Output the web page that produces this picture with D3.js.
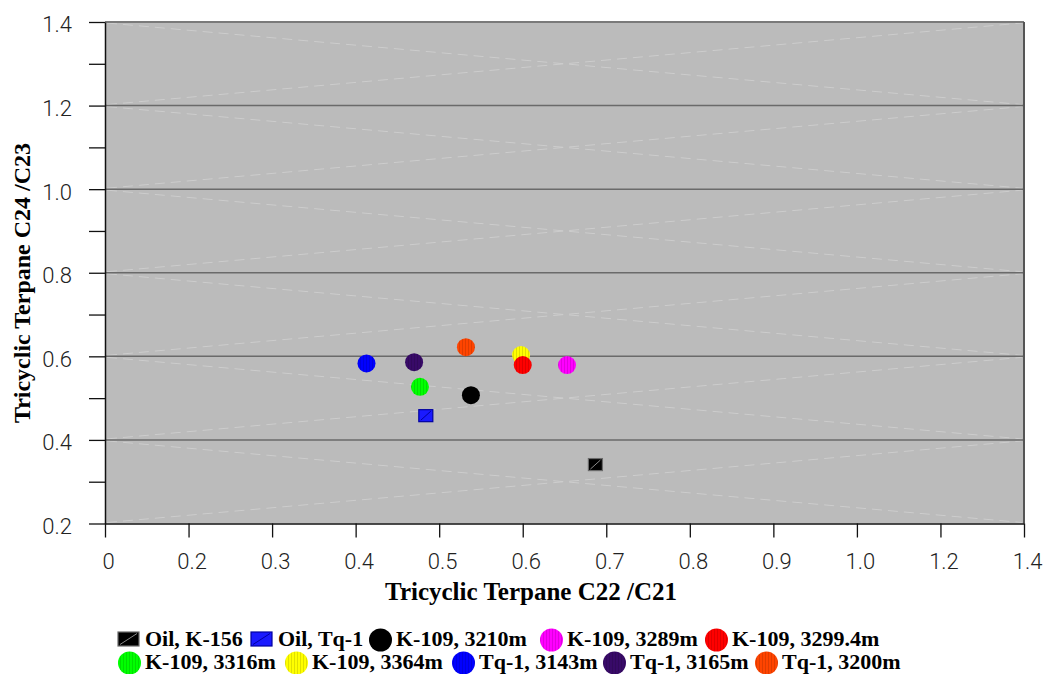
<!DOCTYPE html>
<html><head><meta charset="utf-8">
<script src="https://cdn.jsdelivr.net/npm/d3@7/dist/d3.min.js"></script>
<style>body{margin:0;background:#fff}svg{display:block}</style>
</head><body><svg id="c" width="1044" height="674"></svg>
<script>
// ---- data ----
const xTicks = [0, 0.2, 0.3, 0.4, 0.5, 0.6, 0.7, 0.8, 0.9, 1.0, 1.2, 1.4];
const xTickLabels = ["0", "0.2", "0.3", "0.4", "0.5", "0.6", "0.7", "0.8", "0.9", "1.0", "1.2", "1.4"];
const yTicks = [0.2, 0.4, 0.6, 0.8, 1.0, 1.2, 1.4];
const yTickLabels = ["0.2", "0.4", "0.6", "0.8", "1.0", "1.2", "1.4"];
const yMinorTicks = [0.3, 0.5, 0.7, 0.9, 1.1, 1.3];
const seriesNames = ["Oil, K-156", "Oil, Tq-1", "K-109, 3210m", "K-109, 3289m", "K-109, 3299.4m",
                     "K-109, 3316m", "K-109, 3364m", "Tq-1, 3143m", "Tq-1, 3165m", "Tq-1, 3200m"];
const seriesX = [0.687, 0.484, 0.538, 0.653, 0.600, 0.477, 0.598, 0.413, 0.470, 0.532];
const seriesY = [0.341, 0.458, 0.507, 0.579, 0.579, 0.527, 0.603, 0.583, 0.586, 0.622];
const seriesColors = ["#000000", "#1a1aff", "#000000", "#ff00ff", "#ff0000",
                      "#00ff00", "#ffff00", "#0000ff", "#380a68", "#ff4400"];
const seriesShapes = ["square", "square", "circle", "circle", "circle",
                      "circle", "circle", "circle", "circle", "circle"];
const xTitle = "Tricyclic Terpane C22 /C21";
const yTitle = "Tricyclic Terpane C24 /C23";

// ---- layout ----
const L = 105, R = 1024, T = 22, B = 523.5;
const legendRows = [[0,1,2,3,4],[5,6,7,8,9]];
const legendStartX = [[118, 251, 369, 540, 705], [118, 285, 452, 603, 755]];
const legendBaseY = [646, 669];

const svg = d3.select("#c");
const defs = svg.append("defs");

const x = d3.scaleLinear()
  .domain(xTicks)
  .range(xTicks.map((d, i) => L + i * (R - L) / (xTicks.length - 1)));
const y = d3.scaleLinear().domain([0.2, 1.4]).range([B, T]);

// stripe patterns for circles
seriesColors.forEach((c, i) => {
  const p = defs.append("pattern").attr("id", "pat" + i)
    .attr("patternUnits", "userSpaceOnUse").attr("width", 3).attr("height", 10);
  p.append("rect").attr("width", 3).attr("height", 10).attr("fill", c);
  p.append("rect").attr("width", 1).attr("height", 10).attr("fill", "#000").attr("opacity", 0.12);
});

// plot background
svg.append("rect").attr("x", L).attr("y", T).attr("width", R - L).attr("height", B - T)
  .attr("fill", "#bbbbbb");

// faint dashed X decorations per band
const bands = d3.pairs(yTicks);
const deco = svg.append("g").attr("stroke", "#dcdcdc").attr("stroke-width", 1)
  .attr("stroke-dasharray", "10,6").attr("opacity", 0.55).attr("fill", "none");
bands.forEach(([a, b]) => {
  deco.append("line").attr("x1", L + 2).attr("y1", y(a) - 1).attr("x2", R - 2).attr("y2", y(b) + 1);
  deco.append("line").attr("x1", L + 2).attr("y1", y(b) + 1).attr("x2", R - 2).attr("y2", y(a) - 1);
});

// gridlines
svg.append("g").selectAll("line").data(yTicks.filter(d => d > 0.2 && d < 1.4)).join("line")
  .attr("x1", L).attr("x2", R).attr("y1", d => y(d)).attr("y2", d => y(d))
  .attr("stroke", "#6a6a6a").attr("stroke-width", 1.5);

// frame top and right
svg.append("line").attr("x1", L).attr("x2", R).attr("y1", T).attr("y2", T)
  .attr("stroke", "#7a7a7a").attr("stroke-width", 2);
svg.append("line").attr("x1", R).attr("x2", R).attr("y1", T).attr("y2", B)
  .attr("stroke", "#555").attr("stroke-width", 2);

const tickFont = "Roboto, 'Liberation Sans', sans-serif";

// x axis
const xAxis = d3.axisBottom(x).tickValues(xTicks)
  .tickFormat((d, i) => xTickLabels[i]).tickSize(14).tickSizeOuter(0).tickPadding(16);
const gx = svg.append("g").attr("transform", `translate(0,${B})`).call(xAxis);
gx.select(".domain").attr("stroke", "#111").attr("stroke-width", 1.5);
gx.selectAll(".tick line").attr("stroke", "#111").attr("stroke-width", 1.3);
gx.selectAll(".tick text").attr("font-family", tickFont).attr("font-weight", 300)
  .attr("font-size", 22).attr("fill", "#222").attr("dx", 3);

// y axis
const yAll = yTicks.concat(yMinorTicks).sort((a, b) => a - b);
const yAxis = d3.axisLeft(y).tickValues(yAll)
  .tickFormat(d => { const k = yTicks.findIndex(t => Math.abs(t - d) < 1e-9); return k >= 0 ? yTickLabels[k] : ""; })
  .tickSize(16).tickSizeOuter(0).tickPadding(17);
const gy = svg.append("g").attr("transform", `translate(${L},0)`).call(yAxis);
gy.select(".domain").attr("stroke", "#111").attr("stroke-width", 1.5);
gy.selectAll(".tick line").attr("stroke", "#111").attr("stroke-width", 1.3);
gy.selectAll(".tick text").attr("font-family", tickFont).attr("font-weight", 300)
  .attr("font-size", 22).attr("fill", "#222").attr("dy", "0.45em");

// axis titles
const titleFont = "'Liberation Serif', 'Times New Roman', serif";
svg.append("text").attr("x", 531).attr("y", 600).attr("text-anchor", "middle")
  .attr("font-family", titleFont).attr("font-weight", "bold").attr("font-size", 25)
  .text(xTitle);
svg.append("text").attr("transform", "translate(30,283) rotate(-90)").attr("text-anchor", "middle")
  .attr("font-family", titleFont).attr("font-weight", "bold").attr("font-size", 24)
  .text(yTitle);

// markers
function drawMarker(g, i, cx, cy, legend) {
  if (seriesShapes[i] === "square") {
    const w = legend ? 21 : 14, h = legend ? 14 : 12;
    g.append("rect").attr("x", cx - w / 2).attr("y", cy - h / 2).attr("width", w).attr("height", h)
      .attr("fill", seriesColors[i])
      .attr("stroke", i === 0 ? "#6a6a6a" : "#0000a0").attr("stroke-width", 1.2);
    g.append("line").attr("x1", cx - w / 2 + 2).attr("y1", cy + h / 2 - 1.5)
      .attr("x2", cx + w / 2 - 2).attr("y2", cy - h / 2 + 1.5)
      .attr("stroke", i === 0 ? "#8a8a8a" : "#0000a0").attr("stroke-width", 1);
  } else {
    g.append("circle").attr("cx", cx).attr("cy", cy).attr("r", legend ? 11.5 : 9)
      .attr("fill", `url(#pat${i})`);
  }
}

const gm = svg.append("g");
d3.range(seriesNames.length).reverse().forEach(i => {
  drawMarker(gm, i, x(seriesX[i]), y(seriesY[i]), false);
});

// legend
const gl = svg.append("g");
legendRows.forEach((row, r) => {
  row.forEach((i, k) => {
    const sx = legendStartX[r][k];
    const by = legendBaseY[r];
    const isSq = seriesShapes[i] === "square";
    drawMarker(gl, i, sx + (isSq ? 10.5 : 11.5), by - (isSq ? 7 : 6), true);
    gl.append("text").attr("x", sx + 27).attr("y", by)
      .attr("font-family", titleFont).attr("font-weight", "bold").attr("font-size", 22)
      .attr("fill", "#000").text(seriesNames[i]);
  });
});
</script>
</body></html>
